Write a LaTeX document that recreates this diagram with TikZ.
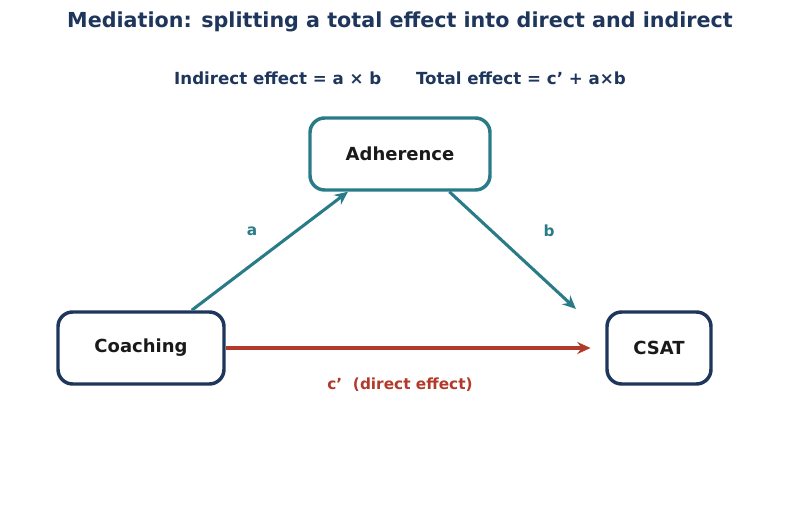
\documentclass[tikz,border=0pt]{standalone}
\usepackage{fontspec}
\setmainfont{DejaVu Sans}
\usetikzlibrary{arrows.meta}
\definecolor{navy}{HTML}{1F365C}
\definecolor{teal}{HTML}{2A7B88}
\definecolor{rust}{HTML}{B23A2B}
\definecolor{ink}{HTML}{1A1A1A}
\begin{document}
\begin{tikzpicture}[x=0.75pt,y=-0.75pt,
  box/.style={draw=#1,line width=2.6pt,rounded corners=11pt,fill=white,font=\bfseries\fontsize{13.5}{16}\selectfont,text=ink,inner sep=0pt},
  arr/.style={draw=#1,line width=2.3pt,-{Stealth[length=10pt,width=9pt]}},
  lab/.style={font=\bfseries\fontsize{11.5}{14}\selectfont,text=#1}]
\useasboundingbox (0,0) rectangle (800,516);
\node[font=\bfseries\fontsize{15.5}{18}\selectfont,text=navy] (t) at (400,22) {Mediation: splitting a total effect into direct and indirect};
\node[font=\bfseries\fontsize{12.5}{15}\selectfont,text=navy] (s) at (400,78) {Indirect effect = a × b\hspace{26pt}Total effect = c' + a×b};
\node[box=teal,minimum width=135pt,minimum height=54pt] (ad) at (400,154) {Adherence};
\node[box=navy,minimum width=124.5pt,minimum height=54pt] (co) at (141,348) {Coaching};
\node[box=navy,minimum width=78pt,minimum height=54pt] (cs) at (659,348) {CSAT};
\draw[arr=teal] ([xshift=-25.5pt]co.north east) -- ([xshift=-39pt]ad.south);
\draw[arr=teal] ([xshift=37pt]ad.south) -- ([xshift=-22pt,yshift=1pt]cs.north west);
\draw[arr=rust] (co.east) -- ([xshift=-11pt]cs.west);
\node[lab=teal] (la) at (252,231) {a};
\node[lab=teal] (lb) at (549,231) {b};
\node[lab=rust] (lc) at (400,385) {c'\ \ (direct effect)};
\end{tikzpicture}
\end{document}
